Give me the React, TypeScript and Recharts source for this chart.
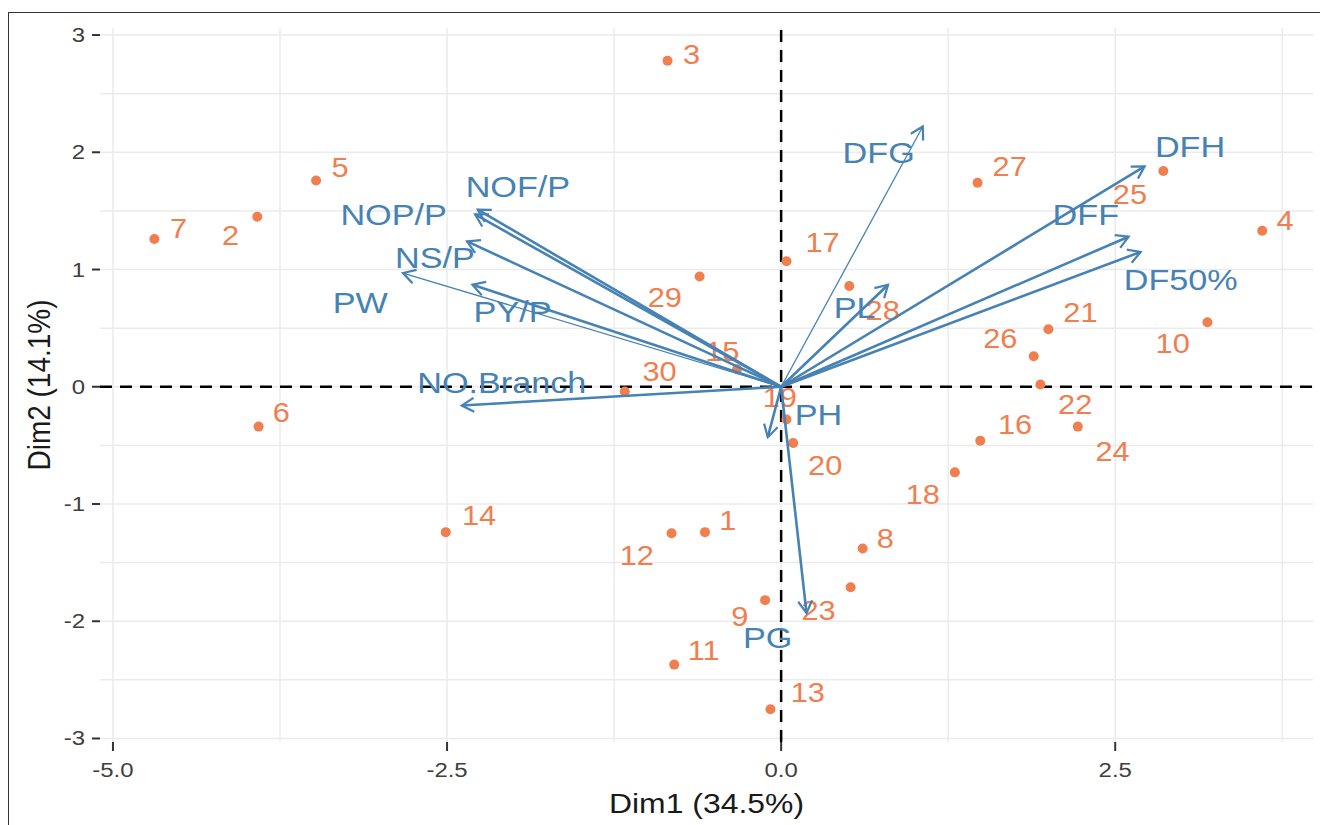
import React from 'react';
import { ScatterChart, Scatter, XAxis, YAxis, CartesianGrid } from 'recharts';

// individuals (genotypes) on the first two PCA dimensions
const obsIds = [
  '1', '2', '3', '4', '5', '6', '7', '8', '9', '10',
  '11', '12', '13', '14', '15', '16', '17', '18', '19', '20',
  '21', '22', '23', '24', '25', '26', '27', '28', '29', '30'
];
const obsDim1 = [
  -0.57, -3.92, -0.85, 3.6, -3.48, -3.91, -4.69, 0.61, -0.12, 3.19,
  -0.8, -0.82, -0.08, -2.51, -0.33, 1.49, 0.04, 1.3, 0.04, 0.09,
  2.0, 1.94, 0.52, 2.22, 2.86, 1.89, 1.47, 0.51, -0.61, -1.17
];
const obsDim2 = [
  -1.24, 1.45, 2.78, 1.33, 1.76, -0.34, 1.26, -1.38, -1.82, 0.55,
  -2.37, -1.25, -2.75, -1.24, 0.15, -0.46, 1.07, -0.73, -0.28, -0.48,
  0.49, 0.02, -1.71, -0.34, 1.84, 0.26, 1.74, 0.86, 0.94, -0.04
];
// where the repelled labels ended up
const obsLabelDim1 = [
  -0.4, -4.12, -0.67, 3.77, -3.3, -3.74, -4.51, 0.78, -0.31, 2.93,
  -0.58, -1.08, 0.2, -2.26, -0.44, 1.75, 0.31, 1.06, -0.01, 0.33,
  2.24, 2.2, 0.28, 2.48, 2.61, 1.64, 1.71, 0.76, -0.87, -0.91
];
const obsLabelDim2 = [
  -1.14, 1.29, 2.83, 1.42, 1.87, -0.22, 1.35, -1.3, -1.96, 0.37,
  -2.25, -1.44, -2.61, -1.1, 0.3, -0.32, 1.23, -0.92, -0.09, -0.67,
  0.63, -0.15, -1.91, -0.55, 1.64, 0.41, 1.88, 0.65, 0.76, 0.13
];

// variable loadings (arrows)
const varNames = ['NOF/P', 'NOP/P', 'NS/P', 'PY/P', 'PW', 'NO.Branch', 'PH', 'PG', 'PL', 'DFG', 'DFH', 'DFF', 'DF50%'];
const varDim1 = [-2.27, -2.29, -2.35, -2.31, -2.83, -2.39, -0.1, 0.19, 0.8, 1.06, 2.72, 2.6, 2.69];
const varDim2 = [1.51, 1.47, 1.24, 0.87, 0.97, -0.16, -0.43, -1.93, 0.87, 2.22, 1.88, 1.28, 1.15];
const varLabelDim1 = [-1.97, -2.9, -2.59, -2.01, -3.15, -2.09, 0.28, -0.1, 0.55, 0.73, 3.06, 2.28, 2.99];
const varLabelDim2 = [1.71, 1.47, 1.1, 0.64, 0.72, 0.03, -0.24, -2.14, 0.67, 2.0, 2.05, 1.47, 0.91];

const xTicks = [-5, -2.5, 0, 2.5];
const yTicks = [-3, -2, -1, 0, 1, 2, 3];
const xGrid = [-5, -3.75, -2.5, -1.25, 0, 1.25, 2.5, 3.75];
const yGrid = [-3, -2.5, -2, -1.5, -1, -0.5, 0, 0.5, 1, 1.5, 2, 2.5, 3];
const xDomain = [-5.097, 3.98];
const yDomain = [-3.03, 3.06];

const ORANGE = '#F07E4F';
const BLUE = '#4682B4';
const FONT = '"Liberation Sans", Arial, Helvetica, sans-serif';
const STRETCH = 1.14;
const thinArrows = ['DFG', 'PW'];

const obsPoints = obsIds.map((id, i) => ({ x: obsDim1[i], y: obsDim2[i], name: id }));
const obsLabels = obsIds.map((id, i) => ({ x: obsLabelDim1[i], y: obsLabelDim2[i], name: id }));
const varLabels = varNames.map((n, i) => ({ x: varLabelDim1[i], y: varLabelDim2[i], name: n }));

const StretchText = ({ x, y, text, size, fill, anchor = 'middle', baseline = 'central' }: any) => (
  <text
    transform={`translate(${x},${y}) scale(${STRETCH},1)`}
    textAnchor={anchor}
    dominantBaseline={baseline}
    fontSize={size}
    fontFamily={FONT}
    fill={fill}
  >
    {text}
  </text>
);

const arrowLine = (width: number) => (props: any) => {
  const [a, b] = props.points;
  const ang = Math.atan2(b.y - a.y, b.x - a.x);
  const len = 14;
  const spread = Math.PI / 6;
  const p1 = [b.x - len * Math.cos(ang - spread), b.y - len * Math.sin(ang - spread)];
  const p2 = [b.x - len * Math.cos(ang + spread), b.y - len * Math.sin(ang + spread)];
  return (
    <g>
      <line x1={a.x} y1={a.y} x2={b.x} y2={b.y} stroke={BLUE} strokeWidth={width} />
      <polyline
        points={`${p1[0]},${p1[1]} ${b.x},${b.y} ${p2[0]},${p2[1]}`}
        fill="none"
        stroke={BLUE}
        strokeWidth={2.2}
        strokeLinejoin="miter"
      />
    </g>
  );
};

const dashedLine = (props: any) => {
  const [a, b] = props.points;
  return <line x1={a.x} y1={a.y} x2={b.x} y2={b.y} stroke="#000" strokeWidth={2.5} strokeDasharray="12 8" />;
};

const noShape = () => <g />;

const YTick = ({ x, y, payload }: any) => (
  <StretchText x={x} y={y} text={String(payload.value)} size={21} fill="#404040" anchor="end" />
);

const XTick = ({ x, y, payload }: any) => (
  <StretchText x={x} y={y + 24} text={payload.value.toFixed(1)} size={21} fill="#404040" baseline="auto" />
);

export default function App() {
  return (
    <div style={{ position: 'absolute', left: 0, top: 0, width: 1320, height: 825, background: '#fff' }}>
      <div
        style={{
          position: 'absolute',
          left: 8,
          top: 12,
          width: 1330,
          height: 830,
          borderTop: '1.5px solid #333',
          borderLeft: '1.5px solid #333'
        }}
      />
      <ScatterChart width={1320} height={825} margin={{ top: 28, right: 7, bottom: 0, left: 0 }}>
        <CartesianGrid
          stroke="#EBEBEB"
          strokeWidth={1.5}
          verticalValues={xGrid}
          horizontalValues={yGrid}
        />
        <XAxis
          type="number"
          dataKey="x"
          domain={xDomain}
          allowDataOverflow
          ticks={xTicks}
          height={83}
          axisLine={false}
          tickSize={9}
          tickLine={{ stroke: '#333', strokeWidth: 2 }}
          tick={<XTick />}
          label={{
            content: (p: any) => (
              <StretchText
                x={p.viewBox.x + p.viewBox.width / 2}
                y={p.viewBox.y + 71}
                text="Dim1 (34.5%)"
                size={28}
                fill="#1A1A1A"
                baseline="auto"
              />
            )
          }}
        />
        <YAxis
          type="number"
          dataKey="y"
          domain={yDomain}
          allowDataOverflow
          ticks={yTicks}
          width={100}
          axisLine={false}
          tickSize={8}
          tickMargin={7}
          tickLine={{ stroke: '#333', strokeWidth: 2 }}
          tick={<YTick />}
          label={{
            content: (p: any) => {
              const cy = p.viewBox.y + p.viewBox.height / 2;
              return (
                <text
                  transform={`translate(39,${cy}) scale(${STRETCH},1) rotate(-90)`}
                  textAnchor="middle"
                  dominantBaseline="central"
                  fontSize={28}
                  fontFamily={FONT}
                  fill="#1A1A1A"
                >
                  Dim2 (14.1%)
                </text>
              );
            }
          }}
        />

        <Scatter
          data={[{ x: xDomain[0], y: 0 }, { x: xDomain[1], y: 0 }]}
          shape={noShape}
          line={dashedLine}
          isAnimationActive={false}
        />
        <Scatter
          data={[{ x: 0, y: yDomain[0] }, { x: 0, y: yDomain[1] }]}
          shape={noShape}
          line={dashedLine}
          isAnimationActive={false}
        />

        <Scatter
          data={obsPoints}
          fill={ORANGE}
          shape={(p: any) => <circle cx={p.cx} cy={p.cy} r={5} fill={ORANGE} />}
          isAnimationActive={false}
        />
        <Scatter
          data={obsLabels}
          shape={(p: any) => <StretchText x={p.cx} y={p.cy} text={p.payload.name} size={27} fill={ORANGE} />}
          isAnimationActive={false}
        />

        {varNames.map((n, i) => (
          <Scatter
            key={n}
            data={[{ x: 0, y: 0 }, { x: varDim1[i], y: varDim2[i] }]}
            shape={noShape}
            line={arrowLine(thinArrows.includes(n) ? 1.3 : 2.6)}
            isAnimationActive={false}
          />
        ))}

        <Scatter
          data={varLabels}
          shape={(p: any) => <StretchText x={p.cx} y={p.cy} text={p.payload.name} size={30} fill={BLUE} />}
          isAnimationActive={false}
        />
      </ScatterChart>
    </div>
  );
}
